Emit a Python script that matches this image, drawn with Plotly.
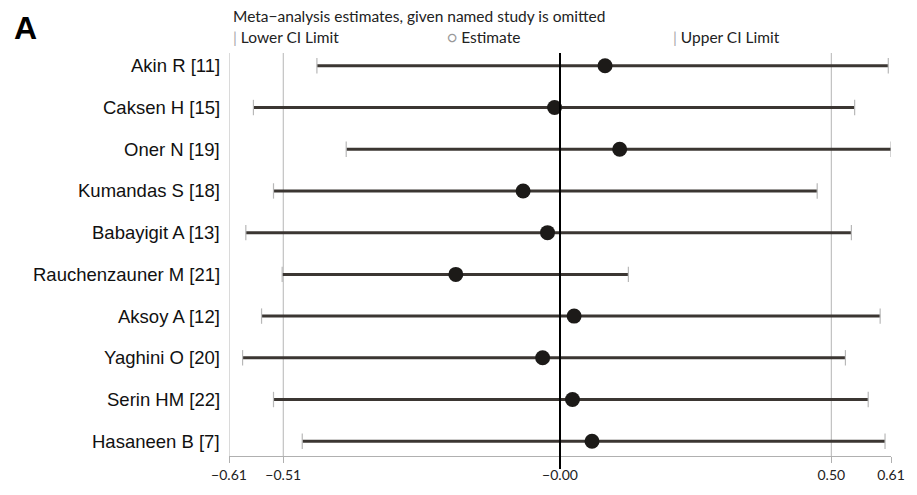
import plotly.graph_objects as go

studies = ["Akin R [11]", "Caksen H [15]", "Oner N [19]", "Kumandas S [18]", "Babayigit A [13]",
           "Rauchenzauner M [21]", "Aksoy A [12]", "Yaghini O [20]", "Serin HM [22]", "Hasaneen B [7]"]
estimate = [0.083, -0.010, 0.110, -0.068, -0.023, -0.192, 0.026, -0.032, 0.023, 0.059]
lower = [-0.448, -0.565, -0.394, -0.528, -0.579, -0.512, -0.550, -0.585, -0.528, -0.475]
upper = [0.605, 0.543, 0.610, 0.474, 0.537, 0.126, 0.590, 0.526, 0.568, 0.599]
tick_vals = [-0.61, -0.51, 0.0, 0.50, 0.61]
tick_text = ["\u22120.61", "\u22120.51", "\u22120.00", "0.50", "0.61"]

rows = list(range(len(studies)))

fig = go.Figure()

# whisker lines
lx, ly = [], []
for r, lo, hi in zip(rows, lower, upper):
    lx += [lo, hi, None]
    ly += [r, r, None]
fig.add_trace(go.Scatter(x=lx, y=ly, mode="lines", line=dict(color="#3b3632", width=3),
                         hoverinfo="skip", showlegend=False))
# caps
fig.add_trace(go.Scatter(x=lower + upper, y=rows + rows, mode="markers",
                         marker=dict(symbol="line-ns", size=11, line=dict(color="#b8b8b8", width=1.2)),
                         hoverinfo="skip", showlegend=False))
# estimates
fig.add_trace(go.Scatter(x=estimate, y=rows, mode="markers",
                         marker=dict(symbol="circle", size=15, color="#1c1a18"),
                         showlegend=False))

shapes = []
for gx in [-0.61, -0.51, 0.50]:
    shapes.append(dict(type="line", xref="x", yref="paper", x0=gx, x1=gx, y0=0, y1=1,
                       line=dict(color="#b5b5b5", width=1), layer="below"))
shapes.append(dict(type="line", xref="x", yref="paper", x0=0, x1=0, y0=-0.032, y1=1,
                   line=dict(color="#000000", width=2), layer="above"))

W, H = 917, 495
ml, mr, mt, mb = 229, 18, 53, 33
pw, ph = W - ml - mr, H - mt - mb

def px(x):
    return (x - ml) / pw

def py(y):
    return (H - mb - y) / ph

annotations = []
for r, name in zip(rows, studies):
    annotations.append(dict(x=0, xref="paper", y=r, yref="y", text=name, showarrow=False,
                            xanchor="right", yanchor="middle", xshift=-7,
                            font=dict(family="Liberation Sans, Arial", size=18.5, color="#111111")))

hdr_font = dict(family="Lato, Open Sans", size=15.5, color="#222222")
annotations += [
    dict(x=px(9), y=py(28), xref="paper", yref="paper", text="<b>A</b>", showarrow=False,
         xanchor="left", yanchor="middle", font=dict(family="Liberation Sans, Arial", size=32, color="#000")),
    dict(x=px(231), y=py(15), xref="paper", yref="paper", text="Meta\u2212analysis estimates, given named study is omitted",
         showarrow=False, xanchor="left", yanchor="middle", font=hdr_font),
    dict(x=px(231), y=py(37), xref="paper", yref="paper", text="<span style='color:#aaaaaa'>|</span> Lower CI Limit",
         showarrow=False, xanchor="left", yanchor="middle", font=hdr_font),
    dict(x=px(448), y=py(37), xref="paper", yref="paper", text="<span style='color:#999999'>\u25cb</span> Estimate",
         showarrow=False, xanchor="left", yanchor="middle", font=hdr_font),
    dict(x=px(676), y=py(37), xref="paper", yref="paper", text="<span style='color:#aaaaaa'>|</span> Upper CI Limit",
         showarrow=False, xanchor="left", yanchor="middle", font=hdr_font),
]

fig.update_layout(
    width=W, height=H,
    margin=dict(l=ml, r=mr, t=mt, b=mb),
    paper_bgcolor="white", plot_bgcolor="white",
    shapes=shapes, annotations=annotations,
    xaxis=dict(range=[-0.61, 0.61], tickvals=tick_vals, ticktext=tick_text, showgrid=False,
               zeroline=False, showline=True, linecolor="#b0b0b0", linewidth=1,
               ticks="outside", ticklen=6, tickcolor="#b0b0b0",
               tickfont=dict(family="Lato, Open Sans", size=14, color="#222222")),
    yaxis=dict(range=[9.354, -0.307], showticklabels=False, showgrid=False, zeroline=False,
               showline=False, ticks=""),
    showlegend=False,
)

fig.write_html("out.html")
